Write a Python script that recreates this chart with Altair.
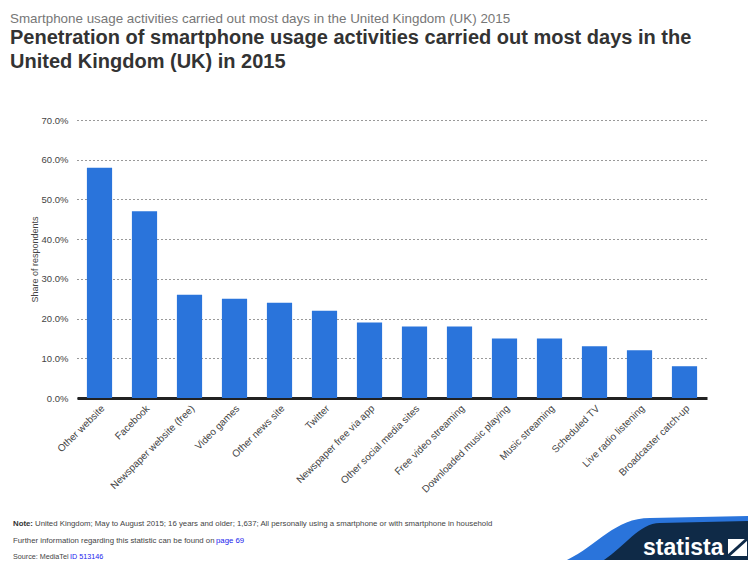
import altair as alt
import pandas as pd

categories = ["Other website", "Facebook", "Newspaper website (free)", "Video games",
              "Other news site", "Twitter", "Newspaper free via app", "Other social media sites",
              "Free video streaming", "Downloaded music playing", "Music streaming",
              "Scheduled TV", "Live radio listening", "Broadcaster catch-up"]
shares = [58, 47, 26, 25, 24, 22, 19, 18, 18, 15, 15, 13, 12, 8]
y_ticks = [0, 10, 20, 30, 40, 50, 60, 70]

df = pd.DataFrame({"activity": categories, "share": shares})

FONT = "Liberation Sans"
W, H = 630, 278

bars = alt.Chart(df).mark_bar(color="#2a74db").encode(
    x=alt.X("activity:N", sort=categories,
            scale=alt.Scale(paddingInner=0.44, paddingOuter=0.22),
            axis=alt.Axis(title=None, labelAngle=-45, labelAlign="right", labelBaseline="top",
                          labelFont=FONT, labelFontSize=10, labelColor="#444",
                          ticks=False, domain=True, domainColor="#222", domainWidth=3,
                          labelPadding=5, labelOverlap=False, labelLimit=200)),
    y=alt.Y("share:Q", scale=alt.Scale(domain=[0, 70]),
            axis=alt.Axis(title="Share of respondents", values=y_ticks,
                          labelExpr="format(datum.value, '.1f') + '%'",
                          labelFont=FONT, labelFontSize=9.5, labelColor="#444",
                          titleFont=FONT, titleFontSize=9, titleFontWeight="normal",
                          titleColor="#444", titlePadding=2,
                          ticks=False, domain=False, labelPadding=9,
                          grid=True, gridDash=[1, 3], gridColor="#333", gridWidth=1)),
)

one = pd.DataFrame({"t": [0]})

def txt(text, x, y, size=7.8, color="#444", weight="normal", align="left", font=FONT):
    return alt.Chart(one).mark_text(text=text, align=align, baseline="middle",
                                    font=font, fontSize=size, color=color,
                                    fontWeight=weight).encode(
        x=alt.value(x), y=alt.value(y))

footer = [
    txt("Note:", -64, 404, weight="bold", color="#333"),
    txt("United Kingdom; May to August 2015; 16 years and older; 1,637; All personally using a smartphone or with smartphone in household", -42, 404),
    txt("Further information regarding this statistic can be found on", -64, 421),
    txt("page 69", 139, 421, color="#1a1aee"),
    txt("Source: MediaTel", -64, 437, size=7.2),
    txt("ID 513146", -7, 437, size=7.2, color="#1a1aee"),
]

# statista logo: swoosh shapes as custom symbols
blue_path = "M-1,0.21 C-0.55,0.15 -0.4,-0.245 0,-0.245 L0.97,-0.265 L0.97,0.21 Z"
navy_path = "M-0.59,0.21 C-0.3,0.15 -0.15,-0.2 0.09,-0.2 L0.97,-0.22 L0.97,0.21 Z"
swoosh_blue = alt.Chart(one).mark_point(shape=blue_path, filled=True, color="#2a74db",
                                        opacity=1, size=48400, strokeWidth=0).encode(
    x=alt.value(573), y=alt.value(425))
swoosh_navy = alt.Chart(one).mark_point(shape=navy_path, filled=True, color="#0f2a47",
                                        opacity=1, size=48400, strokeWidth=0).encode(
    x=alt.value(573), y=alt.value(425))
logo_text = txt("statista", 566, 428, size=23, color="white", weight="bold")
icon_bg = alt.Chart(one).mark_rect(color="white").encode(
    x=alt.value(651), x2=alt.value(670), y=alt.value(419), y2=alt.value(436))
icon_cut = alt.Chart(one).mark_rule(color="#0f2a47", strokeWidth=3).encode(
    x=alt.value(650), x2=alt.value(671), y=alt.value(437), y2=alt.value(418))

chart = alt.layer(bars, *footer, swoosh_blue, swoosh_navy, logo_text, icon_bg, icon_cut).properties(
    width=W, height=H,
    autosize=alt.AutoSizeParams(type="none"),
    padding={"left": 69, "top": 112, "right": 41, "bottom": 162},
    title=alt.TitleParams(
        text="Smartphone usage activities carried out most days in the United Kingdom (UK) 2015",
        subtitle=["Penetration of smartphone usage activities carried out most days in the",
                  "United Kingdom (UK) in 2015"],
        anchor="start", frame="group", orient="top",
        font=FONT, fontSize=13.4, fontWeight="normal", color="#777",
        subtitleFont=FONT, subtitleFontSize=20, subtitleFontWeight="bold",
        subtitleColor="#333", subtitleLineHeight=24, subtitlePadding=3,
        dx=-67, offset=43),
).configure_view(stroke=None)

chart.save("out.html", embed_options={"renderer": "svg", "actions": False})
